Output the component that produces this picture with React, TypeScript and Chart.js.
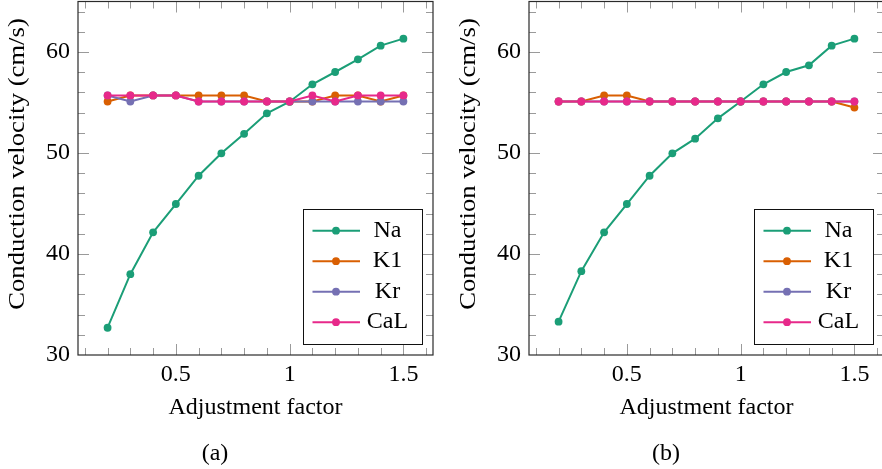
import React, { useEffect, useRef } from 'react';
import { Chart, registerables } from 'chart.js';

Chart.register(...registerables);

const factors = [0.2, 0.3, 0.4, 0.5, 0.6, 0.7, 0.8, 0.9, 1.0, 1.1, 1.2, 1.3, 1.4, 1.5];
const seriesLabels = ['Na', 'K1', 'Kr', 'CaL'];
const seriesColors = ['#1b9e77', '#d95f02', '#7570b3', '#e7298a'];

const naA = [32.7, 38.0, 42.15, 44.95, 47.75, 49.97, 51.9, 53.93, 55.08, 56.8, 58.02, 59.27, 60.63, 61.32];
const k1A = [55.1, 55.7, 55.7, 55.7, 55.7, 55.7, 55.7, 55.1, 55.1, 55.1, 55.7, 55.7, 55.1, 55.7];
const krA = [55.7, 55.1, 55.7, 55.7, 55.1, 55.1, 55.1, 55.1, 55.1, 55.1, 55.1, 55.1, 55.1, 55.1];
const calA = [55.7, 55.7, 55.7, 55.7, 55.1, 55.1, 55.1, 55.1, 55.1, 55.7, 55.1, 55.7, 55.7, 55.7];

const naB = [33.3, 38.3, 42.15, 44.95, 47.75, 49.97, 51.42, 53.43, 55.1, 56.8, 58.02, 58.68, 60.63, 61.32];
const k1B = [55.1, 55.1, 55.7, 55.7, 55.1, 55.1, 55.1, 55.1, 55.1, 55.1, 55.1, 55.1, 55.1, 54.5];
const krB = [55.1, 55.1, 55.1, 55.1, 55.1, 55.1, 55.1, 55.1, 55.1, 55.1, 55.1, 55.1, 55.1, 55.1];
const calB = [55.1, 55.1, 55.1, 55.1, 55.1, 55.1, 55.1, 55.1, 55.1, 55.1, 55.1, 55.1, 55.1, 55.1];

const yTickValues = [30, 40, 50, 60];
const xTickValues = [0.5, 1, 1.5];
const xTitle = 'Adjustment factor';
const yTitle = 'Conduction velocity (cm/s)';

const FONT = "'Liberation Serif', 'Times New Roman', serif";
const FS = 24;

const framePlugin = {
  id: 'frame',
  beforeDatasetsDraw(chart: any) {
    const { ctx, chartArea } = chart;
    const { left, right, top, bottom } = chartArea;
    const xs = chart.scales.x;
    const ys = chart.scales.y;
    ctx.save();
    ctx.strokeStyle = '#9a9a9a';
    ctx.lineWidth = 1;
    for (let i = 1; i <= 16; i++) {
      const v = i / 10;
      const px = Math.round(xs.getPixelForValue(v)) + 0.5;
      if (px < left || px > right) continue;
      const major = i % 5 === 0;
      const len = major ? 11 : 7;
      ctx.beginPath();
      ctx.moveTo(px, bottom);
      ctx.lineTo(px, bottom - len);
      ctx.moveTo(px, top);
      ctx.lineTo(px, top + len);
      ctx.stroke();
    }
    for (let v = 30; v <= 65; v += 2) {
      const py = Math.round(ys.getPixelForValue(v)) + 0.5;
      if (py < top || py > bottom) continue;
      const major = v % 10 === 0;
      const len = major ? 11 : 7;
      ctx.beginPath();
      ctx.moveTo(left, py);
      ctx.lineTo(left + len, py);
      ctx.moveTo(right, py);
      ctx.lineTo(right - len, py);
      ctx.stroke();
    }
    ctx.strokeStyle = '#2a2a2a';
    ctx.lineWidth = 1.2;
    ctx.strokeRect(left, top, right - left, bottom - top);
    ctx.restore();
  },
  afterDraw(chart: any) {
    const { ctx, chartArea } = chart;
    // y axis title
    ctx.save();
    ctx.translate(18, 164);
    ctx.rotate(-Math.PI / 2);
    ctx.scale(1.11, 1);
    ctx.font = `${FS}px ${FONT}`;
    ctx.fillStyle = '#000';
    ctx.textAlign = 'center';
    ctx.textBaseline = 'middle';
    ctx.fillText(yTitle, 0, 0);
    ctx.restore();

    // legend
    const w = 119;
    const h = 135;
    const bx = chartArea.right - 11 - w;
    const by = chartArea.bottom - 11 - h;
    ctx.save();
    ctx.fillStyle = '#ffffff';
    ctx.fillRect(bx, by, w, h);
    ctx.strokeStyle = '#111';
    ctx.lineWidth = 1;
    ctx.strokeRect(Math.round(bx) + 0.5, Math.round(by) + 0.5, w, h);
    chart.data.datasets.forEach((ds: any, i: number) => {
      const ry = by + 21.7 + i * 30.5;
      ctx.strokeStyle = ds.borderColor;
      ctx.lineWidth = 2;
      ctx.beginPath();
      ctx.moveTo(bx + 9.5, ry);
      ctx.lineTo(bx + 57, ry);
      ctx.stroke();
      ctx.fillStyle = ds.borderColor;
      ctx.beginPath();
      ctx.arc(bx + 33, ry, 3.9, 0, Math.PI * 2);
      ctx.fill();
      ctx.fillStyle = '#000';
      ctx.font = `${FS}px ${FONT}`;
      ctx.textAlign = 'center';
      ctx.textBaseline = 'middle';
      ctx.fillText(ds.label, bx + 84.5, ry);
    });
    ctx.restore();
  },
};

function buildConfig(series: number[][]) {
  return {
    type: 'line',
    data: {
      datasets: series.map((vals, i) => ({
        label: seriesLabels[i],
        data: factors.map((f, j) => ({ x: f, y: vals[j] })),
        borderColor: seriesColors[i],
        backgroundColor: seriesColors[i],
        pointBackgroundColor: seriesColors[i],
        pointBorderWidth: 0,
        pointRadius: 3.9,
        borderWidth: 2,
        tension: 0,
        fill: false,
        order: series.length - i,
      })),
    },
    options: {
      responsive: false,
      animation: false,
      events: [],
      layout: { autoPadding: false, padding: { left: 0, right: 8, top: 1.5, bottom: 0 } },
      plugins: { legend: { display: false }, tooltip: { enabled: false } },
      scales: {
        x: {
          type: 'linear',
          min: 0.07,
          max: 1.63,
          grid: { display: false, drawTicks: false },
          border: { display: false },
          afterBuildTicks: (scale: any) => {
            scale.ticks = xTickValues.map((v) => ({ value: v }));
          },
          afterFit: (scale: any) => {
            scale.height = 114;
            scale.paddingLeft = 0;
            scale.paddingRight = 0;
            scale.paddingTop = 0;
            scale.paddingBottom = 0;
          },
          ticks: {
            padding: 5,
            color: '#000',
            font: { family: FONT, size: FS },
            maxRotation: 0,
            callback: (v: any) => String(v),
          },
          title: {
            display: true,
            text: xTitle,
            color: '#000',
            font: { family: FONT, size: FS },
            padding: { top: 0, bottom: 46.6 },
          },
        },
        y: {
          type: 'linear',
          min: 30,
          max: 65,
          grid: { display: false, drawTicks: false },
          border: { display: false },
          afterBuildTicks: (scale: any) => {
            scale.ticks = yTickValues.map((v) => ({ value: v }));
          },
          afterFit: (scale: any) => {
            scale.width = 78;
            scale.paddingLeft = 0;
            scale.paddingRight = 0;
            scale.paddingTop = 0;
            scale.paddingBottom = 0;
          },
          ticks: {
            padding: 8,
            color: '#000',
            font: { family: FONT, size: FS },
            callback: (v: any) => String(v),
          },
          title: { display: false },
        },
      },
    },
    plugins: [framePlugin],
  } as any;
}

function Panel({ series, left, caption }: { series: number[][]; left: number; caption: string }) {
  const ref = useRef<HTMLCanvasElement | null>(null);
  useEffect(() => {
    if (!ref.current) return;
    const chart = new Chart(ref.current, buildConfig(series));
    return () => chart.destroy();
  }, [series]);
  return (
    <div style={{ position: 'absolute', left, top: 0, width: 441, height: 469 }}>
      <canvas ref={ref} width={441} height={469} style={{ width: 441, height: 469, display: 'block' }} />
      <div
        style={{
          position: 'absolute',
          left: 215,
          top: 452,
          transform: 'translate(-50%, -50%)',
          fontFamily: FONT,
          fontSize: FS,
          lineHeight: 1,
          color: '#000',
          whiteSpace: 'nowrap',
        }}
      >
        {caption}
      </div>
    </div>
  );
}

const seriesA = [naA, k1A, krA, calA];
const seriesB = [naB, k1B, krB, calB];

export default function App() {
  return (
    <div
      style={{
        position: 'absolute',
        left: 0,
        top: 0,
        width: 882,
        height: 469,
        overflow: 'hidden',
        background: '#fff',
      }}
    >
      <Panel series={seriesA} left={0} caption="(a)" />
      <Panel series={seriesB} left={451} caption="(b)" />
    </div>
  );
}
